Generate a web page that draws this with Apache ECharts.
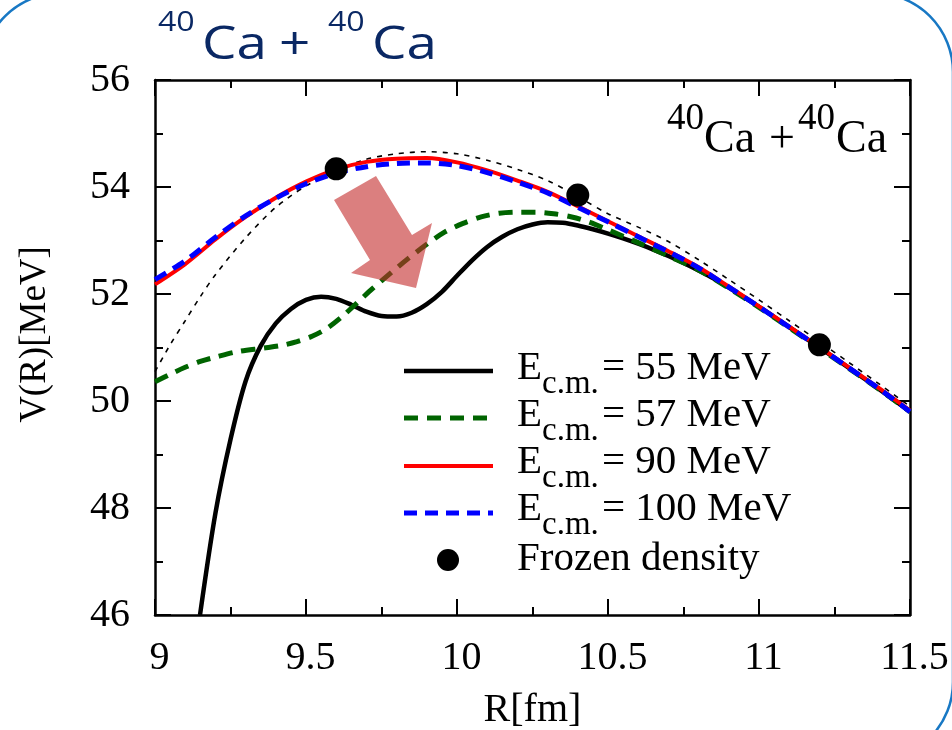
<!DOCTYPE html>
<html>
<head>
<meta charset="utf-8">
<script src="https://cdn.jsdelivr.net/npm/echarts@6/dist/echarts.min.js"></script>
<style>
  html, body { margin: 0; padding: 0; background: #ffffff; }
  #chart { width: 952px; height: 730px; }
</style>
</head>
<body>
<div id="chart"></div>
<script>
// ---- data: nucleus-nucleus potential V(R) for 40Ca + 40Ca ----
const energies = [55, 57, 90, 100];          // E_c.m. in MeV

const r55 = [9.149, 9.20, 9.25, 9.30, 9.35, 9.40, 9.45, 9.50, 9.55, 9.60, 9.65, 9.70, 9.75, 9.80, 9.85,
             9.90, 9.95, 10.00, 10.05, 10.10, 10.15, 10.20, 10.25, 10.30, 10.35, 10.40, 10.45, 10.50,
             10.55, 10.60, 10.65, 10.70, 10.75, 10.80, 10.85, 10.9, 11.0, 11.1, 11.2, 11.3, 11.4, 11.5];
const v55 = [46.0, 47.9, 49.28, 50.37, 51.03, 51.45, 51.72, 51.89, 51.95, 51.91, 51.80, 51.67, 51.59, 51.58,
             51.65, 51.81, 52.04, 52.34, 52.63, 52.88, 53.07, 53.21, 53.30, 53.34, 53.33, 53.28, 53.21,
             53.13, 53.04, 52.94, 52.83, 52.71, 52.58, 52.44, 52.29, 52.12, 51.76, 51.38, 51.00, 50.61,
             50.21, 49.80];

const r57 = [9.0, 9.05, 9.1, 9.15, 9.2, 9.27, 9.36, 9.42, 9.47, 9.52, 9.57, 9.62, 9.67, 9.72, 9.78, 9.84,
             9.9, 9.96, 10.02, 10.08, 10.14, 10.2, 10.26, 10.32, 10.38, 10.44, 10.5, 10.6, 10.7, 10.8,
             10.9, 11.0, 11.1, 11.2, 11.3, 11.4, 11.5];
const v57 = [50.36, 50.50, 50.63, 50.74, 50.82, 50.92, 50.99, 51.04, 51.11, 51.21, 51.36, 51.58, 51.84, 52.10,
             52.39, 52.67, 52.93, 53.16, 53.32, 53.44, 53.51, 53.53, 53.53, 53.50, 53.44, 53.34, 53.20, 52.96,
             52.71, 52.45, 52.11, 51.75, 51.37, 50.99, 50.60, 50.21, 49.80];

const rHigh = [9.0, 9.1, 9.2, 9.3, 9.4, 9.5, 9.6, 9.7, 9.8, 9.9, 10.0, 10.1, 10.2, 10.3, 10.4, 10.5, 10.6,
               10.7, 10.8, 10.9, 11.0, 11.1, 11.2, 11.3, 11.4, 11.5];
const v90  = [52.18, 52.56, 53.02, 53.44, 53.80, 54.10, 54.33, 54.47, 54.53, 54.54, 54.46, 54.31, 54.12,
              53.91, 53.64, 53.36, 53.08, 52.80, 52.50, 52.14, 51.77, 51.39, 51.01, 50.62, 50.23, 49.82];
const v100 = [52.27, 52.62, 53.06, 53.46, 53.79, 54.06, 54.26, 54.38, 54.44, 54.45, 54.40, 54.27, 54.09,
              53.89, 53.62, 53.35, 53.07, 52.79, 52.49, 52.13, 51.76, 51.38, 51.00, 50.61, 50.22, 49.80];

// frozen-density potential (thin dotted curve) and the frozen-density points
const rFrozenCurve = [9.0, 9.05, 9.1, 9.15, 9.2, 9.3, 9.4, 9.5, 9.6, 9.7, 9.8, 9.9, 10.0, 10.1, 10.2, 10.3,
                      10.4, 10.5, 10.6, 10.7, 10.8, 10.9, 11.0, 11.1, 11.2, 11.3, 11.4, 11.5];
const vFrozenCurve = [50.55, 51.05, 51.50, 51.95, 52.36, 53.05, 53.62, 54.02, 54.30, 54.52, 54.62, 54.66,
                      54.62, 54.50, 54.33, 54.12, 53.82, 53.50, 53.25, 52.98, 52.64, 52.27, 51.89, 51.50,
                      51.11, 50.71, 50.31, 49.90];
const rFrozen = [9.6, 10.4, 11.2];
const vFrozen = [54.34, 53.85, 51.05];

const xTickLabels = ['9', '9.5', '10', '10.5', '11', '11.5'];
const yTickLabels = ['46', '48', '50', '52', '54', '56'];

// ---- styling ----
const SERIF = '"Liberation Serif", "Times New Roman", serif';
const SANS = '"Open Sans", "Noto Sans", sans-serif';
const seriesColors = ['#000000', '#006400', '#ff0000', '#0000ff'];
const seriesWidths = [4.5, 5, 4, 5];
const seriesDash = ['solid', [14, 9], 'solid', [13, 8]];

const zip = (xs, ys) => xs.map((x, i) => [x, ys[i]]);
const curveValues = [zip(r55, v55), zip(r57, v57), zip(rHigh, v90), zip(rHigh, v100)];

const axisLine = { show: true, onZero: false, lineStyle: { color: '#000', width: 2.5 } };
const axisTick = { show: true, inside: true, length: 16, lineStyle: { color: '#000', width: 2 } };
const minorTick = { show: true, splitNumber: 2, length: 8, lineStyle: { color: '#000', width: 2 } };

function xAxisDef(pos, showLabels) {
  return {
    type: 'value', min: 9, max: 11.5, interval: 0.5, position: pos,
    axisLine, axisTick, minorTick,
    splitLine: { show: false }, minorSplitLine: { show: false },
    axisLabel: {
      show: showLabels, fontFamily: SERIF, fontSize: 40, color: '#000', margin: 23,
      padding: [0, 0, 0, 9],
      formatter: v => xTickLabels[Math.round((v - 9) / 0.5)]
    },
    name: showLabels ? 'R[fm]' : '',
    nameLocation: 'middle', nameGap: 75,
    nameTextStyle: { fontFamily: SERIF, fontSize: 40, color: '#000' }
  };
}
function yAxisDef(pos, showLabels) {
  return {
    type: 'value', min: 46, max: 56, interval: 2, position: pos,
    axisLine, axisTick, minorTick,
    splitLine: { show: false }, minorSplitLine: { show: false },
    axisLabel: {
      show: showLabels, fontFamily: SERIF, fontSize: 40, color: '#000', margin: 25,
      formatter: v => yTickLabels[Math.round((v - 46) / 2)]
    },
    name: showLabels ? 'V(R)[MeV]' : '',
    nameLocation: 'middle', nameGap: 101, nameRotate: 90,
    nameTextStyle: { fontFamily: SERIF, fontSize: 37, color: '#000', padding: [0, 0, 0, 26] }
  };
}

const series = [];
// thin dotted frozen-density curve, beneath the others
series.push({
  name: 'Frozen density curve', type: 'line', data: zip(rFrozenCurve, vFrozenCurve),
  smooth: 0.3, symbol: 'none', z: 2,
  lineStyle: { color: '#000', width: 1.6, type: [5, 6] }
});
energies.forEach((e, i) => {
  series.push({
    name: 'E_c.m. = ' + e + ' MeV', type: 'line', data: curveValues[i],
    smooth: 0.3, symbol: 'none', z: 3 + i,
    lineStyle: { color: seriesColors[i], width: seriesWidths[i], type: seriesDash[i], cap: 'butt' }
  });
});
series.push({
  name: 'Frozen density', type: 'scatter', data: zip(rFrozen, vFrozen),
  symbol: 'circle', symbolSize: 23, z: 10,
  itemStyle: { color: '#000', opacity: 1 }
});

// ---- annotations: heading, reaction label, legend, arrow, frame ----
const graphic = [];

// rounded frame
graphic.push({
  type: 'rect', z: 0, silent: true,
  shape: { x: -18, y: -7, width: 971, height: 768, r: 79 },
  style: { fill: 'none', stroke: '#1878c4', lineWidth: 2.5 }
});

// slide-style heading
const headColor = '#0a2864';
const headParts = [
  { t: '40', x: 158, size: 27, base: 30 },
  { t: 'Ca', x: 202, size: 46, base: 58 },
  { t: '+', x: 279, size: 46, base: 58 },
  { t: '40', x: 328, size: 27, base: 30 },
  { t: 'Ca', x: 372, size: 46, base: 58 }
];
headParts.forEach(p => graphic.push({
  type: 'text', x: p.x, y: p.base - 0.26 * p.size, scaleX: 1.19, z: 50,
  style: { text: p.t, fontFamily: SANS, fontSize: p.size, fill: headColor, align: 'left', verticalAlign: 'middle' }
}));

// reaction label inside the plot
const reactParts = [
  { t: '40', x: 667, size: 37, base: 132 },
  { t: 'Ca', x: 704, size: 46, base: 155 },
  { t: '+', x: 769, size: 46, base: 155 },
  { t: '40', x: 798, size: 37, base: 132 },
  { t: 'Ca', x: 836, size: 46, base: 155 }
];
reactParts.forEach(p => graphic.push({
  type: 'text', x: p.x, y: p.base - 0.3375 * p.size, z: 50,
  style: { text: p.t, fontFamily: SERIF, fontSize: p.size, fill: '#000', align: 'left', verticalAlign: 'middle' }
}));

// legend
const legX1 = 404, legX2 = 493, legTextX = 517;
const legRowY = [371, 418, 466, 513];
const legBase = [382, 429, 476, 523];
energies.forEach((e, i) => {
  const dash = Array.isArray(seriesDash[i]) ? seriesDash[i] : null;
  graphic.push({
    type: 'line', z: 50,
    shape: { x1: legX1, y1: legRowY[i], x2: legX2, y2: legRowY[i] },
    style: { stroke: seriesColors[i], lineWidth: seriesWidths[i], lineDash: dash, lineCap: 'butt' }
  });
  graphic.push({
    type: 'text', x: legTextX, y: legBase[i] - 0.3375 * 41, z: 50,
    style: { text: 'E', fontFamily: SERIF, fontSize: 41, fill: '#000', align: 'left', verticalAlign: 'middle' }
  });
  graphic.push({
    type: 'text', x: legTextX + 25, y: legBase[i] + 13 - 0.3375 * 33, z: 50,
    style: { text: 'c.m.', fontFamily: SERIF, fontSize: 33, fill: '#000', align: 'left', verticalAlign: 'middle' }
  });
  graphic.push({
    type: 'text', x: 602, y: legBase[i] - 0.3375 * 41, z: 50,
    style: { text: '= ' + e + ' MeV', fontFamily: SERIF, fontSize: 41, fill: '#000', align: 'left', verticalAlign: 'middle' }
  });
});
graphic.push({
  type: 'circle', z: 50, shape: { cx: 448, cy: 560, r: 11 }, style: { fill: '#000' }
});
graphic.push({
  type: 'text', x: legTextX, y: 573 - 0.3375 * 41, z: 50,
  style: { text: 'Frozen density', fontFamily: SERIF, fontSize: 41, fill: '#000', align: 'left', verticalAlign: 'middle' }
});

// translucent arrow pointing at the low-energy barrier
graphic.push({
  type: 'polygon', z: 60, silent: true,
  shape: { points: [[334, 200], [370, 260], [351, 273], [416, 288], [432, 223], [412, 235], [376, 176]] },
  style: { fill: 'rgba(195, 42, 42, 0.6)' }
});

const chart = echarts.init(document.getElementById('chart'), null, { renderer: 'canvas' });
chart.setOption({
  animation: false,
  backgroundColor: '#ffffff',
  grid: { left: 155, right: 42, top: 80, bottom: 115, containLabel: false, outerBoundsMode: 'none' },
  xAxis: [xAxisDef('bottom', true), xAxisDef('top', false)],
  yAxis: [yAxisDef('left', true), yAxisDef('right', false)],
  series,
  graphic
});
</script>
</body>
</html>
